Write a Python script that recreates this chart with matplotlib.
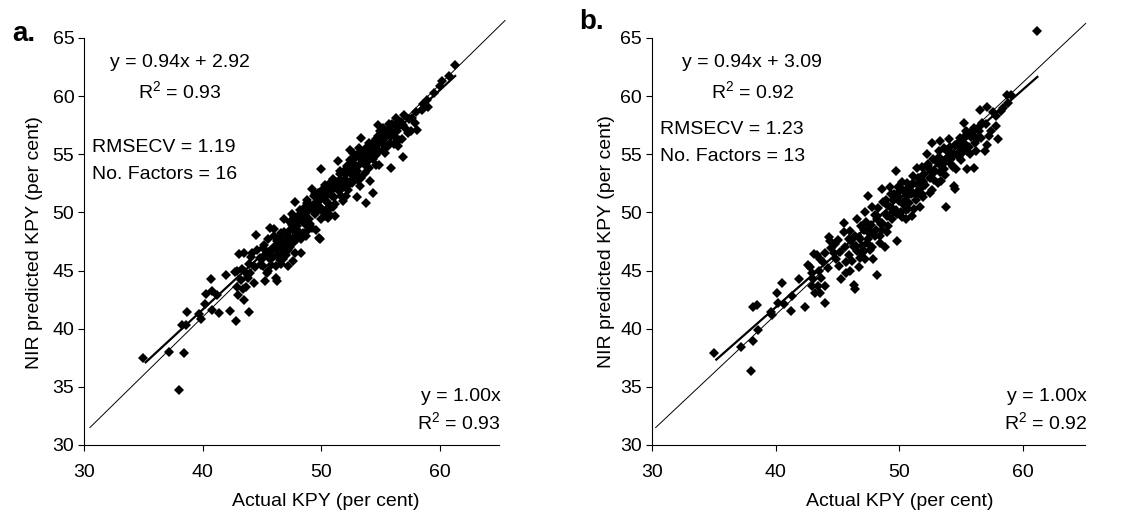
import matplotlib.pyplot as plt
import numpy as np

plt.rcParams['font.family'] = ['Liberation Sans', 'DejaVu Sans']
plt.rcParams['mathtext.fontset'] = 'custom'
plt.rcParams['mathtext.rm'] = 'Liberation Sans'

# panel a: actual vs NIR predicted KPY
a_actual = [35.0, 37.2, 38.4, 38.0, 38.3, 38.7, 38.6, 39.7, 39.9, 40.2, 40.3, 40.8, 40.7, 40.8, 41.4,
            41.2, 42.0, 42.3, 42.8, 43.9, 42.7, 43.1, 43.5, 43.5, 43.4, 43.0, 42.9, 43.7, 43.8, 43.3,
            44.2, 44.3, 44.0, 44.5, 44.8, 45.1, 45.1, 45.3, 45.4, 45.5, 45.7, 45.8, 46.0, 46.2, 46.3,
            46.2, 46.4, 46.5, 46.6, 46.8, 46.9, 47.1, 47.2, 46.7, 47.3, 47.5, 47.8, 47.6, 47.8, 47.6,
            48.0, 48.0, 48.2, 48.3, 48.5, 48.6, 48.8, 48.9, 49.0, 49.2, 49.5, 49.6, 49.8, 49.9, 50.0,
            49.9, 50.0, 50.2, 50.3, 50.4, 50.6, 50.7, 50.9, 51.0, 51.2, 51.3, 51.6, 51.4, 51.7, 51.8,
            52.1, 52.3, 52.4, 52.5, 52.7, 52.8, 53.0, 53.1, 53.4, 53.5, 53.7, 53.8, 54.0, 54.1, 54.2,
            54.4, 54.5, 54.6, 54.8, 54.9, 55.1, 55.2, 55.4, 55.6, 55.9, 56.1, 56.3, 56.5, 56.6, 56.8,
            56.9, 57.0, 57.3, 57.7, 57.9, 58.1, 58.5, 58.9, 59.0, 60.2, 60.8, 61.3,
            45.0, 45.3, 45.6, 45.9, 46.1, 46.3, 46.4, 46.6, 46.7, 46.9, 47.0, 47.1, 47.3, 47.4, 47.5,
            47.7, 47.8, 47.9, 48.1, 48.2, 48.4, 48.6, 48.7, 48.8, 49.0, 49.1, 49.3, 49.4, 49.6, 49.7,
            49.9, 50.1, 50.2, 50.4, 50.5, 50.7, 50.8, 51.0, 51.1, 51.3, 51.5, 51.6, 51.8, 52.0, 52.2,
            52.3, 52.5, 52.6, 52.8, 52.9, 53.1, 53.2, 53.4, 53.6, 53.7, 53.9, 54.0, 54.3, 54.4, 54.7,
            54.9, 55.0, 55.3, 55.5, 55.7, 55.8, 56.0, 56.2, 56.4, 56.7, 57.1, 57.4, 42.9, 43.2, 43.6,
            43.9, 44.1, 44.4, 44.6, 44.9, 45.2, 45.5, 45.7, 46.0, 46.2, 46.5, 46.8, 47.2, 47.6, 48.0,
            48.3, 48.9, 49.2, 49.5, 50.0, 50.3, 50.6, 50.9, 51.2, 51.7, 52.1, 52.4, 52.7, 53.0, 53.3,
            53.8, 54.1, 54.6, 55.2, 55.6, 56.1, 56.6, 57.6, 58.0, 58.6, 59.5, 60.0,
            46.3, 46.6, 46.9, 47.2, 47.5, 47.9, 48.2, 48.5, 48.8, 49.3, 49.7, 50.1, 50.5, 50.8, 51.2,
            51.6, 52.0, 52.4, 52.8, 53.2, 53.6, 54.0, 54.4, 54.8, 55.3, 55.7, 56.2, 56.9, 46.0, 47.4,
            48.6, 49.8, 51.0, 52.2, 53.4, 54.6, 55.9]
a_pred = [37.5, 38.0, 37.9, 34.7, 40.3, 41.4, 40.35, 41.3, 40.8, 42.1, 42.95, 43.2, 44.3, 41.6, 41.35,
          42.9, 44.6, 41.5, 40.7, 41.4, 44.9, 46.4, 46.5, 42.5, 43.4, 42.9, 43.6, 43.6, 44.4, 45.1,
          46.5, 43.9, 44.8, 48.1, 46.1, 46.9, 45.4, 44.1, 44.8, 47.7, 48.7, 45.5, 48.6, 44.4, 44.1,
          46.8, 47.7, 45.9, 48.2, 46.5, 49.4, 46.9, 45.4, 47.4, 47.7, 49.9, 50.9, 48.5, 46.5, 45.8,
          47.7, 48.8, 49.7, 46.5, 48.2, 50.5, 51.1, 48.5, 49.4, 52.0, 49.9, 48.5, 47.8, 47.7, 53.7,
          51.1, 50.2, 51.7, 49.7, 52.2, 50.8, 49.9, 51.4, 50.5, 49.7, 52.2, 52.8, 54.4, 51.4, 51.0,
          53.7, 52.4, 55.4, 54.5, 53.1, 54.2, 51.3, 52.8, 56.4, 54.8, 53.4, 50.8, 54.5, 52.7, 54.8,
          51.7, 55.7, 54.1, 57.5, 54.1, 56.0, 57.3, 55.1, 55.7, 53.8, 56.8, 58.1, 55.7, 57.4, 56.3,
          54.8, 58.4, 56.8, 58.1, 57.7, 57.1, 58.8, 59.7, 59.1, 61.3, 61.7, 62.7,
          46.0, 46.3, 46.6, 46.2, 47.0, 47.2, 46.3, 45.6, 47.6, 47.1, 46.3, 48.1, 48.4, 47.0, 49.3,
          49.6, 48.0, 49.1, 48.3, 50.2, 49.3, 49.0, 48.0, 50.0, 50.7, 49.0, 50.3, 51.4, 50.0, 51.0,
          50.5, 51.3, 50.0, 51.0, 50.3, 51.7, 50.5, 52.0, 51.3, 52.6, 51.8, 53.3, 52.3, 52.9, 53.5,
          51.9, 53.9, 52.5, 54.6, 53.3, 55.0, 54.1, 53.0, 55.2, 54.3, 55.6, 53.8, 55.9, 54.6, 56.2,
          55.3, 57.0, 56.6, 55.6, 57.2, 56.0, 57.6, 56.5, 57.0, 57.8, 57.3, 58.0, 45.0, 44.2, 44.9,
          45.6, 46.2, 45.3, 46.8, 45.5, 47.2, 45.0, 46.0, 46.9, 45.4, 47.8, 46.0, 46.8, 47.4, 49.3,
          47.7, 49.4, 48.7, 51.6, 49.4, 52.4, 49.5, 52.4, 50.7, 52.0, 51.4, 52.6, 55.1, 53.6, 52.3,
          54.0, 55.2, 54.9, 55.4, 56.9, 55.9, 56.2, 57.0, 58.6, 59.3, 60.3, 60.9,
          47.5, 46.9, 48.3, 47.6, 48.9, 48.6, 49.9, 49.6, 50.8, 50.6, 51.7, 51.9, 51.5, 52.6, 52.4,
          53.6, 53.4, 54.5, 54.0, 55.5, 55.0, 56.0, 55.3, 56.6, 56.3, 57.6, 57.5, 57.5, 48.0, 49.2,
          50.3, 51.2, 52.9, 54.0, 54.6, 56.3, 56.6]

# panel b
b_actual = [35.0, 37.2, 38.2, 38.0, 38.2, 38.5, 38.6, 39.6, 39.7, 40.1, 40.2, 40.5, 40.7, 41.2, 41.3,
            41.9, 42.4, 42.6, 42.9, 43.1, 43.3, 43.6, 42.9, 43.2, 43.4, 43.6, 43.7, 44.0, 44.0, 44.0,
            44.3, 44.4, 44.7, 44.9, 45.1, 45.3, 45.5, 45.5, 45.7, 45.7, 45.9, 46.0, 46.3, 46.4, 46.5,
            46.6, 46.8, 46.8, 47.0, 47.1, 47.2, 47.4, 47.5, 47.6, 47.8, 47.9, 48.0, 48.2, 48.2, 48.4,
            48.6, 48.6, 48.8, 48.9, 49.0, 49.1, 49.2, 49.4, 49.5, 49.7, 49.8, 49.9, 50.1, 50.2, 50.3,
            50.5, 50.6, 50.7, 50.9, 51.0, 51.1, 51.3, 51.4, 51.5, 51.7, 51.8, 51.9, 52.2, 52.4, 52.5,
            52.6, 52.8, 53.0, 53.2, 53.3, 53.4, 53.6, 53.8, 53.8, 54.0, 54.2, 54.4, 54.5, 54.6, 54.8,
            54.9, 55.2, 55.3, 55.5, 55.5, 55.7, 55.9, 56.0, 56.1, 56.5, 56.7, 56.9, 57.1, 57.1, 57.2,
            57.6, 57.8, 58.0, 58.2, 58.7, 58.8, 61.1,
            42.8, 43.0, 43.5, 43.8, 44.2, 44.5, 44.8, 45.2, 45.6, 45.9, 46.1, 46.2, 46.4, 46.6, 46.7,
            46.9, 47.0, 47.2, 47.3, 47.5, 47.7, 47.8, 48.0, 48.1, 48.3, 48.5, 48.7, 48.9, 49.0, 49.2,
            49.4, 49.6, 49.7, 49.9, 50.0, 50.2, 50.3, 50.4, 50.6, 50.8, 50.9, 51.1, 51.2, 51.4, 51.6,
            51.7, 51.9, 52.0, 52.1, 52.3, 52.5, 52.7, 52.9, 53.1, 53.2, 53.4, 53.6, 53.7, 53.9, 54.1,
            54.3, 54.5, 54.7, 54.9, 55.0, 55.2, 55.4, 55.6, 55.8, 56.0, 56.3, 56.4, 56.6, 57.0, 57.4,
            57.8, 58.4, 59.0, 45.0, 46.0, 47.1, 48.4, 49.3, 50.5, 51.5, 52.6, 53.3, 54.2, 55.1, 56.2,
            46.3, 46.7, 47.0, 47.4, 47.8, 48.2, 48.6, 49.0, 49.5, 49.9, 50.3, 50.7, 51.1, 51.5, 51.9,
            52.3, 52.7, 53.1, 53.5, 53.9, 54.3, 54.7, 55.1, 55.5, 56.0, 56.5, 47.6, 49.8, 51.8, 53.8]
b_pred = [37.87, 38.4, 38.9, 36.4, 41.9, 42.0, 39.9, 41.4, 41.2, 43.1, 42.25, 43.9, 42.1, 41.5, 42.8,
          44.3, 41.9, 45.5, 44.8, 46.4, 46.3, 46.0, 43.7, 43.1, 43.7, 43.1, 44.4, 43.7, 42.2, 46.5,
          47.9, 47.5, 46.5, 46.0, 45.4, 44.3, 48.3, 49.1, 45.7, 44.8, 47.7, 48.4, 43.8, 43.4, 47.1,
          49.4, 47.7, 46.1, 46.5, 48.5, 50.0, 47.4, 51.4, 48.3, 50.5, 46.0, 48.0, 49.4, 44.6, 47.4,
          52.0, 48.5, 47.0, 51.1, 49.7, 48.8, 52.2, 50.4, 51.1, 53.6, 47.5, 51.7, 50.0, 52.6, 50.7,
          49.4, 51.4, 50.3, 52.3, 49.7, 53.1, 51.1, 53.8, 51.8, 50.5, 53.9, 52.7, 55.0, 53.7, 51.7,
          56.0, 52.8, 54.3, 55.3, 56.1, 52.7, 53.7, 50.5, 55.4, 56.3, 54.6, 52.3, 52.0, 53.7, 54.8,
          55.7, 57.7, 56.6, 55.3, 53.7, 55.0, 57.0, 53.8, 56.0, 58.8, 57.7, 55.3, 59.1, 55.8, 56.6,
          58.6, 57.4, 56.3, 58.7, 60.1, 59.4, 65.6,
          45.3, 44.3, 45.0, 45.7, 45.2, 46.9, 47.3, 46.6, 47.0, 46.3, 47.5, 45.8, 48.0, 46.7, 45.3,
          48.8, 47.1, 46.0, 49.2, 47.7, 48.9, 47.0, 49.8, 48.5, 50.4, 49.0, 50.9, 49.9, 48.3, 50.5,
          49.4, 51.6, 50.2, 52.2, 51.0, 49.6, 51.9, 50.9, 52.5, 50.8, 51.6, 52.5, 50.3, 51.5, 53.0,
          52.0, 51.3, 53.3, 52.4, 54.2, 53.0, 54.6, 53.6, 52.5, 54.8, 54.0, 55.5, 53.2, 54.7, 55.6,
          53.9, 55.8, 55.1, 56.4, 54.5, 56.0, 57.0, 55.6, 56.5, 57.3, 56.3, 57.0, 56.4, 57.6, 57.0,
          58.3, 59.0, 60.1, 47.6, 45.0, 46.7, 48.0, 51.6, 50.2, 52.4, 51.9, 53.5, 54.2, 55.2, 55.3,
          47.0, 47.9, 46.6, 48.4, 48.2, 49.7, 49.1, 50.6, 50.0, 51.3, 50.9, 52.1, 51.7, 53.0, 52.6,
          54.0, 53.4, 54.5, 54.2, 55.3, 55.0, 56.0, 55.7, 56.9, 56.6, 57.4, 46.8, 49.9, 51.6, 54.6]

# drawn lines as they sit in the picture: slope, intercept, x range
a_fit = (0.9435, 3.90, 35.2, 61.3)
a_one = (1.0, 1.0, 30.5, 65.5)
b_fit = (0.937, 4.36, 35.2, 61.15)
b_one = (1.0, 1.2, 30.3, 65.05)

fig = plt.figure(figsize=(11.26, 5.19), dpi=100)
ax1 = fig.add_axes([0.0746, 0.1426, 0.3686, 0.7842])
ax2 = fig.add_axes([0.579, 0.1426, 0.3846, 0.7842])

FS = 14


def panel(ax, xs, ys, fit, one, eq, r2, rmse, nf):
    for k, lw in ((one, 0.7), (fit, 1.6)):
        xx = np.array([k[2], k[3]])
        ax.plot(xx, k[0] * xx + k[1], color='black', lw=lw, clip_on=False, zorder=2)
    ax.plot(xs, ys, 'D', color='black', markersize=4.8, markeredgewidth=0, zorder=3, clip_on=False)
    ax.set_xlim(30, 65)
    ax.set_ylim(30, 65)
    ax.set_xticks([30, 40, 50, 60])
    ax.set_yticks(range(30, 66, 5))
    for s in ['top', 'right']:
        ax.spines[s].set_visible(False)
    ax.tick_params(labelsize=FS, length=4, width=0.8, pad=3)
    ax.tick_params(axis='x', pad=10)
    ax.text(0.232, 0.94, eq, transform=ax.transAxes, ha='center', va='center', fontsize=FS)
    ax.text(0.232, 0.868, 'R$^2$ = ' + r2, transform=ax.transAxes, ha='center', va='center', fontsize=FS)
    ax.text(0.019, rmse[1], 'RMSECV = ' + rmse[0], transform=ax.transAxes, ha='left', va='center', fontsize=FS)
    ax.text(0.019, rmse[1] - 0.067, 'No. Factors = ' + nf, transform=ax.transAxes, ha='left', va='center', fontsize=FS)
    ax.text(1.005, 0.12, 'y = 1.00x', transform=ax.transAxes, ha='right', va='center', fontsize=FS)
    ax.text(1.005, 0.054, 'R$^2$ = ' + r2, transform=ax.transAxes, ha='right', va='center', fontsize=FS)


panel(ax1, a_actual, a_pred, a_fit, a_one, 'y = 0.94x + 2.92', '0.93', ('1.19', 0.732), '16')
panel(ax2, b_actual, b_pred, b_fit, b_one, 'y = 0.94x + 3.09', '0.92', ('1.23', 0.776), '13')

fig.text(0.011, 0.935, 'a.', fontsize=20, fontweight='bold', va='center')
fig.text(0.514, 0.958, 'b.', fontsize=20, fontweight='bold', va='center')
fig.text(0.031, 0.532, 'NIR predicted KPY (per cent)', rotation=90, ha='center', va='center', fontsize=FS)
fig.text(0.539, 0.534, 'NIR predicted KPY (per cent)', rotation=90, ha='center', va='center', fontsize=FS)
fig.text(0.2895, 0.033, 'Actual KPY (per cent)', ha='center', va='center', fontsize=FS)
fig.text(0.799, 0.033, 'Actual KPY (per cent)', ha='center', va='center', fontsize=FS)

plt.savefig('out.png', dpi=100)
